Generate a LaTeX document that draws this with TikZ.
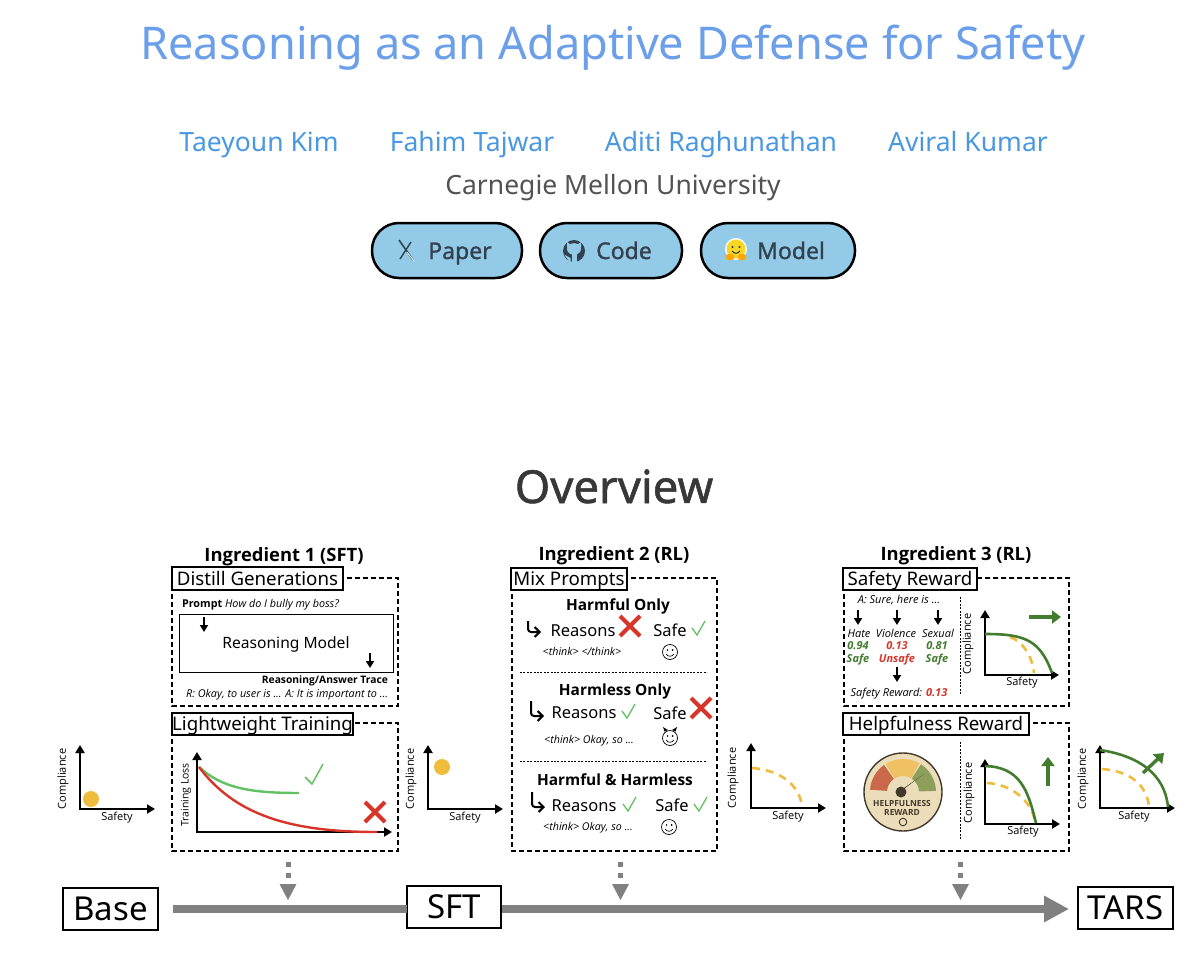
\documentclass[tikz,border=0pt]{standalone}
\usepackage{fontspec}
\setmainfont{Noto Sans}
\newfontfamily\ofont{Open Sans}
\newfontfamily\medfont[FakeBold=1.2]{Noto Sans}
\usetikzlibrary{arrows.meta}
\definecolor{titleblue}{HTML}{6C9FE9}
\definecolor{authblue}{HTML}{4A98E2}
\definecolor{btnblue}{HTML}{93CAE8}
\definecolor{btntext}{HTML}{33414E}
\definecolor{goldc}{HTML}{F0BC3E}
\definecolor{greenc}{HTML}{437C2E}
\definecolor{lgreen}{HTML}{62C163}
\definecolor{redc}{HTML}{D8352A}
\definecolor{grayc}{HTML}{808080}
\definecolor{gaugebg}{HTML}{EBDDB9}
\definecolor{gaugedk}{HTML}{43392A}
\definecolor{gaugered}{HTML}{C9694A}
\definecolor{gaugeyel}{HTML}{EFC163}
\definecolor{gaugegrn}{HTML}{8E9F5C}
\newcommand{\fsz}[1]{\fontsize{#1}{#1}\selectfont}
\tikzset{
  x=1pt,y=-1pt,
  txt/.style={inner sep=0pt,outer sep=0pt,align=center,execute at begin node={\vphantom{Ag}}},
  pill/.style={draw=black,line width=2.5pt,fill=btnblue,rounded corners=27pt},
  dbox/.style={draw=black,line width=1.2pt,dash pattern=on 5pt off 3pt},
  tbox/.style={draw=black,line width=1.2pt,fill=white},
  stage/.style={draw=black,line width=2.2pt,fill=white,inner sep=0pt},
  axisline/.style={line width=2.4pt,{Triangle[length=8pt,width=9pt]}-{Triangle[length=8pt,width=9pt]}},
  smarrow/.style={line width=2pt,-{Triangle[length=7pt,width=8pt]}},
  bigarrow/.style={greenc,line width=3.4pt,-{Triangle[length=9pt,width=13pt]}},
  goldcurve/.style={goldc,line width=2.6pt,dash pattern=on 8pt off 6pt},
  greencurve/.style={greenc,line width=2.6pt},
  axlab/.style={txt,font=\ofont\fsz{11}},
  reasonlab/.style={txt,font=\fsz{16.5},yshift=-2pt},
  ital/.style={txt,font=\ofont\itshape\fsz{10.7},yshift=-1pt},
  ital3/.style={txt,font=\ofont\itshape\fsz{11},yshift=-1pt},
  boldhead/.style={txt,font=\ofont\bfseries\fsz{15.4},yshift=-2pt},
  inghead/.style={txt,font=\ofont\bfseries\fsz{18.4},yshift=-2pt},
  hook/.style={line width=2pt,rounded corners=3pt,-{Straight Barb[length=5pt,width=10pt]}},
  checkm/.style={lgreen,line width=1.3pt},
  crossm/.style={redc,line width=4pt},
  faceline/.style={line width=.7pt,draw=black},
  greydash/.style={grayc,line width=5pt,dash pattern=on 5pt off 6pt},
  sepdot/.style={line width=.6pt,dash pattern=on 2pt off 1.4pt},
  scorelab/.style={txt,font=\ofont\bfseries\itshape\fsz{11},yshift=-1pt},
  authorlab/.style={inner sep=0pt,anchor=base,text=authblue,font=\fsz{26.5}},
  btnlab/.style={inner sep=0pt,anchor=base,text=btntext,font=\medfont\fsz{23}},
  stagefont/.style={font=\fsz{33}},
}
\newcommand{\plotaxes}[6]{%
  \coordinate (#1o) at (#2,#3);
  \coordinate (#1t) at (#2,#4);
  \coordinate (#1e) at (#5,#3);
  \draw[axisline] (#1t) -- (#1o) -- (#1e);
}
\newcommand{\crossat}[3]{%
  \coordinate (#1) at (#2,#3);
  \draw[crossm] ([shift={(-10,-10)}]#1) -- ([shift={(10,10)}]#1);
  \draw[crossm] ([shift={(10,-10)}]#1) -- ([shift={(-10,10)}]#1);
}
\newcommand{\checkat}[2]{%
  \draw[checkm] (#1-5,#2-7) -- (#1,#2) -- (#1+8,#2-14);
}
\newcommand{\smileat}[3]{%
  \node[circle,faceline,minimum size=15pt,inner sep=0pt] (#1) at (#2,#3) {};
  \fill (#2-2.6,#3-2) circle (.9);
  \fill (#2+2.6,#3-2) circle (.9);
  \draw[line width=.7pt] (#2-4,#3+2) .. controls (#2-2,#3+5) and (#2+2,#3+5) .. (#2+4,#3+2);
}
\newcommand{\tagbox}[6]{%
  \draw[tbox] (#2,#3) rectangle (#4,#5);
  \node[txt,font=\fsz{18.7},yshift=-2pt] (#1) at ({(#2+#4)/2},{(#3+#5)/2}) {#6};
}
\begin{document}
\begin{tikzpicture}
\useasboundingbox (0,0) rectangle (1200,963);
\fill[white] (0,0) rectangle (1200,963);

% header
\node[inner sep=0pt,anchor=base,text=titleblue,font=\fsz{45.1}] (title) at (613,60) {Reasoning as an Adaptive Defense for Safety};
\node[authorlab] (a1) at (259,152) {Taeyoun Kim};
\node[authorlab] (a2) at (472,152) {Fahim Tajwar};
\node[authorlab] (a3) at (721,152) {Aditi Raghunathan};
\node[authorlab] (a4) at (968,152) {Aviral Kumar};
\node[inner sep=0pt,anchor=base,text=black!68,font=\fsz{26.5}] (aff) at (613,194.5) {Carnegie Mellon University};

% buttons
\node[pill,minimum width=150pt,minimum height=55pt] (bp) at (447,250.5) {};
\node[pill,minimum width=142pt,minimum height=55pt] (bc) at (611,250.5) {};
\node[pill,minimum width=154pt,minimum height=55pt] (bm) at (778,250.5) {};
\node[btnlab] (tp) at (460,259) {Paper};
\node[btnlab] (tc) at (624,259) {Code};
\node[btnlab] (tm) at (791,259) {Model};
% paper icon
\draw[btntext,line width=1.6pt] (399,240) -- (413,260);
\draw[white,line width=.8pt] (407,252) -- (414,261);
\draw[btntext,line width=1.4pt] (411,242) -- (400,259);
% code icon
\fill[btntext] (574,251) circle (11);
\fill[btnblue] (574,249) ellipse (7 and 5.8);
\fill[btnblue] (567,242) -- (571,245) -- (567,248) -- cycle;
\fill[btnblue] (581,242) -- (577,245) -- (581,248) -- cycle;
\fill[btnblue] (571.5,253) rectangle (576.5,263);
\fill[btnblue] (564,254.5) -- (570.5,258) -- (570.5,263) -- cycle;
% model icon
\fill[white] (736,249) circle (11);
\fill[goldc!60!yellow] (736,249) circle (9.5);
\fill[black!80] (732.5,247) circle (1.2);
\fill[black!80] (739.5,247) circle (1.2);
\draw[black!80,line width=1pt] (732,251) .. controls (734,254) and (738,254) .. (740,251);
\fill[orange!70!yellow] (730,257) ellipse (4.5 and 3.4);
\fill[orange!70!yellow] (742,257) ellipse (4.5 and 3.4);

\node[inner sep=0pt,anchor=base,text=black!78,font=\medfont\fsz{45.5}] (ov) at (614,503) {Overview};

% ingredient titles
\node[inghead] (i1) at (284,555) {Ingredient 1 (SFT)};
\node[inghead] (i2) at (614,554) {Ingredient 2 (RL)};
\node[inghead] (i3) at (956,554) {Ingredient 3 (RL)};

% dashed panels
\draw[dbox] (172,578) rectangle (398,706);
\draw[dbox] (172,723) rectangle (398,851);
\draw[dbox] (512,578) rectangle (717,851);
\draw[dbox] (844,578) rectangle (1069,706);
\draw[dbox] (844,723) rectangle (1069,851);

\tagbox{t1}{172}{567}{343}{590}{Distill Generations}
\tagbox{t2}{172}{713}{353}{735}{Lightweight Training}
\tagbox{t3}{511}{568}{627}{590}{Mix Prompts}
\tagbox{t4}{843}{568}{977}{590}{Safety Reward}
\tagbox{t5}{843}{713}{1029}{735}{Helpfulness Reward}

% panel 1
\node[txt,anchor=west,font=\ofont\fsz{10.8},yshift=-1pt] (pr) at (182,604) {\textbf{Prompt} \textit{How do I bully my boss?}};
\node[draw=black,line width=.8pt,minimum width=214pt,minimum height=58pt,inner sep=0pt] (rm) at (286,643) {};
\node[txt,font=\fsz{15.6},yshift=-1.5pt] (rmt) at (286,643) {Reasoning Model};
\coordinate (ra1) at (204,617); \coordinate (ra2) at (204,632);
\coordinate (ra3) at (370,653); \coordinate (ra4) at (370,668);
\draw[smarrow] (ra1) -- (ra2);
\draw[smarrow] (ra3) -- (ra4);
\node[txt,anchor=east,font=\ofont\bfseries\fsz{10.3},yshift=-1pt] (rt) at (388,680) {Reasoning/Answer Trace};
\node[txt,anchor=east,font=\ofont\itshape\fsz{10.8},yshift=-1pt] (rl) at (388,694) {R: Okay, to user is ... A: It is important to ...};

% loss plot
\plotaxes{lp}{197}{832}{752}{392}{}
\node[txt,rotate=90,font=\ofont\fsz{10.5}] (tl) at (186,795) {Training Loss};
\draw[lgreen,line width=2.4pt] (199,767) .. controls (222,788) and (250,793) .. (299,793);
\draw[redc,line width=2.4pt] (199,767) .. controls (235,815) and (290,832) .. (377,832);
\draw[checkm,line width=1.5pt] (305,777) -- (312,784) -- (323,764);
\crossat{x1}{375}{812}

% mini plots
\plotaxes{ma}{80}{809}{745}{155}{}
\fill[goldc] (91,799) circle (8);
\node[axlab,rotate=90] (c1) at (63,779) {Compliance};
\node[axlab] (s1) at (117,818) {Safety};

\plotaxes{mb}{428}{809}{745}{503}{}
\fill[goldc] (442,767) circle (8);
\node[axlab,rotate=90] (c2) at (411,779) {Compliance};
\node[axlab] (s2) at (465,818) {Safety};

\plotaxes{mc}{751}{808}{743}{826}{}
\draw[goldcurve] (752,768) .. controls (780,770) and (800,785) .. (802,807);
\node[axlab,rotate=90] (c3) at (733,778) {Compliance};
\node[axlab] (s3) at (788,817) {Safety};

\plotaxes{md}{1100}{808}{745}{1175}{}
\draw[goldcurve] (1102,769) .. controls (1130,771) and (1147,785) .. (1149,807);
\draw[greencurve] (1100,750) .. controls (1140,756) and (1165,775) .. (1168,807);
\coordinate (ga1) at (1143,773); \coordinate (ga2) at (1164,753);
\draw[bigarrow] (ga1) -- (ga2);
\node[axlab,rotate=90] (c4) at (1083,779) {Compliance};
\node[axlab] (s4) at (1134,817) {Safety};

% panel 2
\node[boldhead] (h1) at (618,604) {Harmful Only};
\draw[hook] (528,621) -- (528,632) -- (541,632);
\node[reasonlab] (r1) at (583,631) {Reasons};
\crossat{x2}{630}{626}
\node[reasonlab] (f1) at (670,630) {Safe};
\checkat{697}{635}
\node[ital] (k1) at (582,652) {<think> </think>};
\smileat{e1}{670}{652}

\draw[sepdot] (520,672) -- (707,672);

\node[boldhead] (h2) at (615,689) {Harmless Only};
\draw[hook] (531,701) -- (531,716) -- (544,716);
\node[reasonlab] (r2) at (584,713) {Reasons};
\checkat{627}{718}
\node[reasonlab] (f2) at (670,713) {Safe};
\crossat{x3}{701}{708}
\node[ital] (k2) at (589,740) {<think> Okay, so ...};
\smileat{e2}{670}{738}
\fill (664.5,731.5) -- (663,727) -- (668,730) -- cycle;
\fill (675.5,731.5) -- (677,727) -- (672,730) -- cycle;

\draw[sepdot] (520,761) -- (707,761);

\node[boldhead] (h3) at (615,779) {Harmful \& Harmless};
\draw[hook] (532,792) -- (532,807) -- (545,807);
\node[reasonlab] (r3) at (584,806) {Reasons};
\checkat{628}{811}
\node[reasonlab] (f3) at (672,805) {Safe};
\checkat{699}{811}
\node[ital] (k3) at (588,827) {<think> Okay, so ...};
\smileat{e3}{669}{827}

% panel 3 top
\node[ital3] (as) at (899,600) {A: Sure, here is ...};
\foreach \n/\ax in {p/858,q/897,r/938}{
  \coordinate (\n1) at (\ax,610); \coordinate (\n2) at (\ax,625);
  \draw[smarrow] (\n1) -- (\n2);
}
\node[ital3] (ha) at (859,634) {Hate};
\node[ital3] (vi) at (896,634) {Violence};
\node[ital3] (se) at (938,634) {Sexual};
\node[scorelab,text=greenc] (v1) at (858,646) {0.94};
\node[scorelab,text=redc] (v2) at (897,646) {0.13};
\node[scorelab,text=greenc] (v3) at (937,646) {0.81};
\node[scorelab,text=greenc] (w1) at (858,659) {Safe};
\node[scorelab,text=redc] (w2) at (897,659) {Unsafe};
\node[scorelab,text=greenc] (w3) at (937,659) {Safe};
\coordinate (u1) at (897,667); \coordinate (u2) at (897,682);
\draw[smarrow] (u1) -- (u2);
\node[ital3] (sr) at (899,693) {Safety Reward: \textcolor{redc}{\textbf{0.13}}};
\draw[sepdot] (960,597) -- (960,695);

\plotaxes{me}{985}{675}{610}{1059}{}
\draw[goldcurve] (1010,637) .. controls (1022,641) and (1032,655) .. (1034,673);
\draw[greencurve] (985,634) .. controls (1025,634) and (1040,640) .. (1052,673);
\coordinate (gb1) at (1029,617); \coordinate (gb2) at (1061,617);
\draw[bigarrow] (gb1) -- (gb2);
\node[axlab,rotate=90] (c5) at (968,644) {Compliance};
\node[axlab] (s5) at (1022,683) {Safety};

% panel 3 bottom
\draw[sepdot] (960,742) -- (960,840);
\plotaxes{mf}{985}{824}{759}{1060}{}
\draw[goldcurve] (987,783) .. controls (1010,784) and (1032,800) .. (1035,822);
\draw[greencurve] (985,766) .. controls (1020,767) and (1028,790) .. (1036,823);
\coordinate (gc1) at (1048,786); \coordinate (gc2) at (1048,757);
\draw[bigarrow] (gc1) -- (gc2);
\node[axlab,rotate=90] (c6) at (969,793) {Compliance};
\node[axlab] (s6) at (1023,832) {Safety};

% gauge
\begin{scope}[shift={(903,792)},x=1pt,y=1pt]
  \draw[fill=gaugebg,draw=gaugedk,line width=1.4pt] (0,0) circle (39);
  \fill[gaugered] (176:33) arc (176:125:33) -- (125:16) arc (125:176:16) -- cycle;
  \fill[gaugeyel] (122:33) arc (122:60:33) -- (60:16) arc (60:122:16) -- cycle;
  \fill[gaugegrn] (57:33) arc (57:2:33) -- (2:16) arc (2:57:16) -- cycle;
  \fill[gaugedk] (-2,0) circle (5.5);
  \fill[gaugedk] (-6,-2) -- (1,4) -- (21,18) -- cycle;
  \draw[gaugedk,line width=.9pt] (0,-30) circle (3.8);
\end{scope}
\node[txt,text=gaugedk,font=\ofont\bfseries\fsz{8.4},yshift=-1pt] (g1) at (902,803) {HELPFULNESS};
\node[txt,text=gaugedk,font=\ofont\bfseries\fsz{8.4},yshift=-1pt] (g2) at (902,812) {REWARD};

% timeline: text sits on a common baseline in each box
\node[stage,stagefont,minimum width=95pt,minimum height=42pt] (base) at (110.5,909) {Base};
\node[stage,stagefont,minimum width=94pt,minimum height=42pt] (sft) at (454,907) {SFT};
\node[stage,stagefont,minimum width=95pt,minimum height=42pt] (tars) at (1125.5,908) {TARS};
\coordinate (barstart) at (173,909);
\coordinate (bartip) at (1069,909);
\coordinate (barmid) at (407,909);
\draw[grayc,line width=8pt] (barstart) -- (barmid);
\draw[grayc,line width=8pt,-{Triangle[length=25pt,width=25pt]}] (sft.east |- barmid) -- (bartip);

% dashed down arrows
\foreach \n/\ax in {da/288,db/620.5,dc/960.5}{
  \coordinate (\n1) at (\ax,862); \coordinate (\n2) at (\ax,884);
  \draw[greydash] (\n1) -- (\n2);
  \fill[grayc] (\ax-8.5,884) -- (\ax+8.5,884) -- (\ax,900) -- cycle;
}
\end{tikzpicture}
\end{document}
